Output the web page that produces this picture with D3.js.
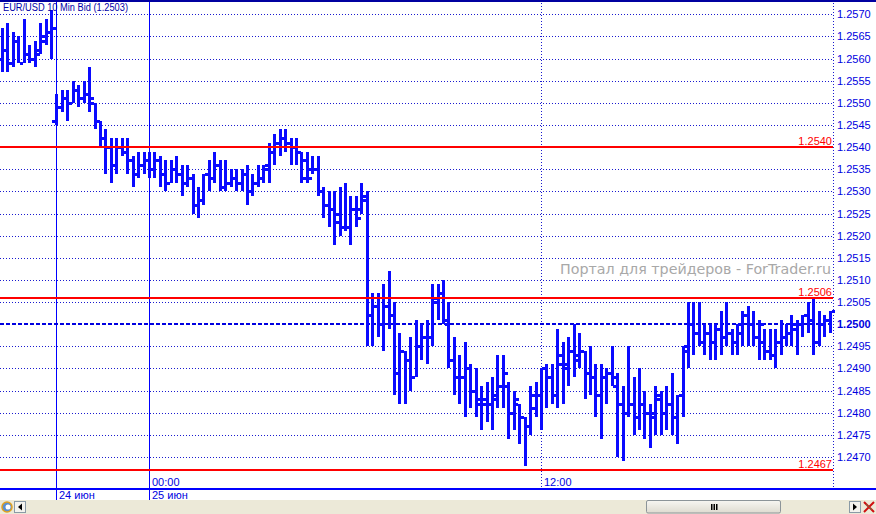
<!DOCTYPE html>
<html><head><meta charset="utf-8">
<script src="https://cdn.jsdelivr.net/npm/d3@7"></script>
<style>html,body{margin:0;padding:0;background:#fff;overflow:hidden}svg{display:block}</style>
</head><body>
<script>
const title = "EUR/USD 10 Min Bid (1.2503)";
const open = [1.2560,1.2562,1.2559,1.2564,1.2559,1.2561,1.2560,1.2562,1.2564,1.2566,
1.2546,1.2549,1.2551,1.2550,1.2553,1.2551,1.2552,1.2550,1.2546,1.2542,
1.2540,1.2536,1.2540,1.2539,1.2537,1.2534,1.2536,1.2537,1.2535,1.2537,
1.2534,1.2532,1.2535,1.2534,1.2532,1.2533,1.2527,1.2528,1.2534,1.2533,
1.2536,1.2531,1.2532,1.2533,1.2532,1.2534,1.2530,1.2532,1.2533,1.2535,
1.2539,1.2541,1.2542,1.2541,1.2540,1.2539,1.2537,1.2535,1.2535,1.2530,
1.2527,1.2526,1.2525,1.2522,1.2522,1.2526,1.2526,1.2528,1.2502,1.2504,
1.2500,1.2504,1.2502,1.2489,1.2494,1.2492,1.2488,1.2495,1.2497,1.2497,
1.2505,1.2507,1.2501,1.2492,1.2488,1.2488,1.2490,1.2485,1.2483,1.2482,
1.2482,1.2483,1.2486,1.2486,1.2480,1.2482,1.2479,1.2477,1.2481,1.2484,
1.2490,1.2488,1.2484,1.2491,1.2491,1.2494,1.2492,1.2494,1.2489,1.2488,
1.2484,1.2488,1.2489,1.2486,1.2482,1.2480,1.2482,1.2479,1.2482,1.2480,
1.2480,1.2483,1.2480,1.2482,1.2479,1.2484,1.2495,1.2500,1.2498,1.2496,
1.2498,1.2496,1.2499,1.2497,1.2498,1.2496,1.2500,1.2502,1.2500,1.2497,
1.2496,1.2494,1.2493,1.2496,1.2497,1.2498,1.2499,1.2500,1.2502,1.2501,
1.2496,1.2500,1.2501];
const high = [1.2567,1.2568,1.2566,1.2565,1.2569,1.2563,1.2564,1.2568,1.2569,1.2571,
1.2552,1.2553,1.2553,1.2555,1.2554,1.2555,1.2558,1.2550,1.2546,1.2544,
1.2542,1.2542,1.2542,1.2542,1.2538,1.2539,1.2539,1.2539,1.2539,1.2538,
1.2537,1.2537,1.2538,1.2536,1.2536,1.2534,1.2531,1.2534,1.2537,1.2539,
1.2537,1.2537,1.2535,1.2535,1.2535,1.2536,1.2534,1.2536,1.2536,1.2541,
1.2543,1.2544,1.2544,1.2542,1.2542,1.2539,1.2539,1.2538,1.2538,1.2531,
1.2530,1.2530,1.2531,1.2532,1.2529,1.2529,1.2532,1.2530,1.2507,1.2507,
1.2509,1.2512,1.2505,1.2498,1.2494,1.2497,1.2501,1.2500,1.2501,1.2509,
1.2509,1.2510,1.2505,1.2497,1.2493,1.2496,1.2491,1.2490,1.2486,1.2487,
1.2488,1.2493,1.2493,1.2487,1.2485,1.2482,1.2479,1.2486,1.2487,1.2490,
1.2491,1.2491,1.2499,1.2496,1.2497,1.2500,1.2498,1.2494,1.2495,1.2491,
1.2491,1.2490,1.2495,1.2489,1.2486,1.2495,1.2488,1.2490,1.2485,1.2482,
1.2486,1.2485,1.2486,1.2489,1.2484,1.2495,1.2505,1.2505,1.2505,1.2500,
1.2500,1.2500,1.2503,1.2505,1.2499,1.2500,1.2503,1.2504,1.2503,1.2501,
1.2499,1.2499,1.2499,1.2501,1.2500,1.2502,1.2501,1.2502,1.2505,1.2506,
1.2503,1.2502,1.2503];
const low = [1.2557,1.2557,1.2558,1.2559,1.2559,1.2559,1.2558,1.2561,1.2563,1.2560,
1.2545,1.2548,1.2546,1.2550,1.2549,1.2550,1.2548,1.2544,1.2540,1.2534,
1.2532,1.2534,1.2538,1.2534,1.2531,1.2533,1.2534,1.2533,1.2533,1.2531,
1.2530,1.2532,1.2532,1.2529,1.2531,1.2525,1.2524,1.2527,1.2530,1.2532,
1.2530,1.2530,1.2531,1.2530,1.2530,1.2527,1.2529,1.2531,1.2532,1.2532,
1.2536,1.2538,1.2539,1.2536,1.2536,1.2532,1.2532,1.2534,1.2529,1.2524,
1.2522,1.2518,1.2520,1.2521,1.2518,1.2522,1.2525,1.2495,1.2495,1.2497,
1.2494,1.2499,1.2484,1.2482,1.2482,1.2485,1.2488,1.2492,1.2491,1.2495,
1.2501,1.2500,1.2490,1.2484,1.2482,1.2479,1.2481,1.2479,1.2476,1.2478,
1.2476,1.2481,1.2481,1.2474,1.2476,1.2473,1.2468,1.2475,1.2479,1.2476,
1.2481,1.2482,1.2481,1.2482,1.2486,1.2488,1.2490,1.2483,1.2484,1.2479,
1.2474,1.2482,1.2486,1.2470,1.2469,1.2479,1.2475,1.2476,1.2474,1.2472,
1.2475,1.2475,1.2476,1.2475,1.2473,1.2479,1.2490,1.2493,1.2495,1.2493,
1.2492,1.2492,1.2493,1.2495,1.2493,1.2493,1.2495,1.2495,1.2495,1.2492,
1.2492,1.2492,1.2490,1.2493,1.2495,1.2495,1.2493,1.2497,1.2498,1.2493,
1.2495,1.2497,1.2498];
const close = [1.2562,1.2559,1.2564,1.2559,1.2561,1.2560,1.2561,1.2565,1.2566,1.2567,
1.2549,1.2551,1.2550,1.2553,1.2551,1.2552,1.2551,1.2546,1.2542,1.2540,
1.2536,1.2540,1.2539,1.2537,1.2534,1.2536,1.2537,1.2535,1.2537,1.2534,
1.2532,1.2535,1.2534,1.2532,1.2533,1.2527,1.2528,1.2534,1.2533,1.2536,
1.2531,1.2532,1.2533,1.2532,1.2534,1.2530,1.2532,1.2533,1.2536,1.2539,
1.2541,1.2542,1.2541,1.2540,1.2539,1.2533,1.2533,1.2535,1.2530,1.2527,
1.2526,1.2523,1.2522,1.2522,1.2526,1.2524,1.2529,1.2502,1.2504,1.2500,
1.2504,1.2502,1.2489,1.2494,1.2492,1.2488,1.2495,1.2497,1.2497,1.2506,
1.2507,1.2500,1.2492,1.2488,1.2488,1.2490,1.2485,1.2482,1.2483,1.2482,
1.2484,1.2486,1.2489,1.2480,1.2483,1.2479,1.2477,1.2484,1.2484,1.2490,
1.2488,1.2484,1.2493,1.2490,1.2494,1.2493,1.2494,1.2489,1.2488,1.2484,
1.2488,1.2489,1.2488,1.2482,1.2480,1.2482,1.2479,1.2482,1.2480,1.2479,
1.2484,1.2480,1.2482,1.2479,1.2484,1.2494,1.2500,1.2498,1.2496,1.2498,
1.2496,1.2499,1.2497,1.2498,1.2496,1.2498,1.2502,1.2500,1.2497,1.2500,
1.2494,1.2493,1.2496,1.2497,1.2498,1.2500,1.2500,1.2502,1.2501,1.2496,
1.2500,1.2501,1.2503];
const priceTicks = [1.2570,1.2565,1.2560,1.2555,1.2550,1.2545,1.2540,1.2535,1.2530,1.2525,1.2520,
1.2515,1.2510,1.2505,1.2500,1.2495,1.2490,1.2485,1.2480,1.2475,1.2470];
const levelLines = [1.2540, 1.2506, 1.2467];
const currentLevel = 1.2500;
const dayIndex = [10, 27];
const dayLabels = ["24 июн", "25 июн"];
const timeIndex = [27, 99];
const timeLabels = ["00:00", "12:00"];
const watermark = "Портал для трейдеров - ForTrader.ru";

const W = 876, H = 514;
const FONT = "'Liberation Sans', Arial, sans-serif";
const BAR = "#0a0aff", AX = "#0000e0", GRID = "#1a1ad0";
const svg = d3.select("body").append("svg").attr("width", W).attr("height", H)
  .style("font-family", FONT).attr("shape-rendering", "crispEdges");

const x = d3.scaleLinear().domain([0, open.length - 1]).range([2, 829.5]);
const y = d3.scaleLinear().domain([1.2470, 1.2570]).range([457, 14.3]);
const plotR = 833, axisY = 488;

// horizontal dotted grid
svg.append("g").selectAll("line").data(priceTicks).join("line")
  .attr("x1", 0).attr("x2", plotR).attr("y1", d => Math.round(y(d)) + 0.5).attr("y2", d => Math.round(y(d)) + 0.5)
  .attr("stroke", GRID).attr("stroke-dasharray", "1,2").attr("stroke-width", 1);

// right axis labels
svg.append("g").selectAll("text").data(priceTicks).join("text")
  .attr("x", 837).attr("y", d => Math.round(y(d)) + 4)
  .attr("font-size", 11).attr("fill", AX)
  .attr("font-weight", d => d === currentLevel ? "bold" : "normal")
  .text(d => d.toFixed(4));

// right axis dotted line
svg.append("line").attr("x1", plotR + 0.5).attr("x2", plotR + 0.5).attr("y1", 0).attr("y2", axisY)
  .attr("stroke", GRID).attr("stroke-dasharray", "1,2");

// time dotted vertical (12:00 etc.)
svg.append("g").selectAll("line").data(timeIndex.filter(i => !dayIndex.includes(i))).join("line")
  .attr("x1", d => Math.round(x(d)) + 0.5).attr("x2", d => Math.round(x(d)) + 0.5)
  .attr("y1", 0).attr("y2", axisY).attr("stroke", GRID).attr("stroke-dasharray", "1,2");

// day separators
svg.append("g").selectAll("line").data(dayIndex).join("line")
  .attr("x1", d => Math.round(x(d)) + 0.5).attr("x2", d => Math.round(x(d)) + 0.5)
  .attr("y1", 0).attr("y2", 500).attr("stroke", "#0000ff").attr("stroke-width", 1);

// watermark
svg.append("text").attr("x", 831).attr("y", 274).attr("text-anchor", "end")
  .attr("font-family", "'DejaVu Sans', Verdana, sans-serif").attr("font-size", 14)
  .attr("fill", "#a8a8a8").attr("textLength", 271).attr("lengthAdjust", "spacingAndGlyphs")
  .text(watermark);

// current price dashed line
svg.append("line").attr("x1", 0).attr("x2", plotR).attr("y1", Math.round(y(currentLevel)))
  .attr("y2", Math.round(y(currentLevel))).attr("stroke", "#0000e0").attr("stroke-width", 2)
  .attr("stroke-dasharray", "4,2");

// bars
const idx = d3.range(open.length);
const g = svg.append("g").attr("fill", BAR);
idx.forEach(i => {
  const cx = Math.round(x(i));
  const yh = Math.round(y(high[i])), yl = Math.round(y(low[i]));
  g.append("rect").attr("x", cx - 1).attr("y", yh).attr("width", 3).attr("height", Math.max(yl - yh, 2));
  g.append("rect").attr("x", cx - 4).attr("y", Math.round(y(open[i])) - 1).attr("width", 3).attr("height", 3);
  g.append("rect").attr("x", cx + 2).attr("y", Math.round(y(close[i])) - 1).attr("width", 3).attr("height", 3);
});

// red level lines
svg.append("g").selectAll("line").data(levelLines).join("line")
  .attr("x1", 0).attr("x2", plotR).attr("y1", d => Math.round(y(d)))
  .attr("y2", d => Math.round(y(d))).attr("stroke", "#ff0000").attr("stroke-width", 2);
svg.append("g").selectAll("text").data(levelLines).join("text")
  .attr("x", 832).attr("y", d => Math.round(y(d)) - 2).attr("text-anchor", "end")
  .attr("font-size", 11).attr("fill", "#ff0000").text(d => d.toFixed(4));

// title
svg.append("text").attr("x", 3).attr("y", 11).attr("font-size", 10).attr("fill", "#0000a8")
  .attr("textLength", 125).attr("lengthAdjust", "spacingAndGlyphs").text(title);

// top border
svg.append("rect").attr("x", 0).attr("y", 0).attr("width", W).attr("height", 2).attr("fill", "#0000a0");

// bottom axis
svg.append("rect").attr("x", 0).attr("y", axisY).attr("width", W).attr("height", 1.5).attr("fill", "#0000ff");
svg.append("g").selectAll("text").data(timeIndex).join("text")
  .attr("x", d => Math.round(x(d)) + 3).attr("y", 486).attr("font-size", 11).attr("fill", AX)
  .text((d, i) => timeLabels[i]);
svg.append("g").selectAll("text").data(dayIndex).join("text")
  .attr("x", d => Math.round(x(d)) + 3).attr("y", 499).attr("font-size", 11).attr("fill", AX)
  .text((d, i) => dayLabels[i]);

// scrollbar
const sb = svg.append("g").attr("shape-rendering", "auto");
sb.append("rect").attr("x", 0).attr("y", 500).attr("width", W).attr("height", 14).attr("fill", "#ece9d8");
sb.append("circle").attr("cx", 7).attr("cy", 507).attr("r", 5).attr("fill", "#5a8fd0").attr("stroke", "#e0a020").attr("stroke-width", 1.5);
sb.append("circle").attr("cx", 8).attr("cy", 507).attr("r", 2.5).attr("fill", "#ffffff");
sb.append("rect").attr("x", 14.5).attr("y", 501.5).attr("width", 11).attr("height", 11).attr("fill", "#f4f3ee").attr("stroke", "#8a9aa6");
sb.append("path").attr("d", "M18,507 L22,503.5 L22,510.5 Z").attr("fill", "#000");
const grad = svg.append("defs").append("linearGradient").attr("id", "thumb").attr("x1", 0).attr("x2", 0).attr("y1", 0).attr("y2", 1);
grad.append("stop").attr("offset", "0%").attr("stop-color", "#f7f6f2");
grad.append("stop").attr("offset", "100%").attr("stop-color", "#dedbd0");
sb.append("rect").attr("x", 646.5).attr("y", 500.5).attr("width", 134).attr("height", 12.5).attr("rx", 1.5)
  .attr("fill", "url(#thumb)").attr("stroke", "#8c9499");
[711, 713.5, 716].forEach(gx => sb.append("rect").attr("x", gx).attr("y", 504).attr("width", 1.5).attr("height", 6).attr("fill", "#000"));
sb.append("rect").attr("x", 849.5).attr("y", 501.5).attr("width", 11).attr("height", 11).attr("fill", "#f4f3ee").attr("stroke", "#8a9aa6");
sb.append("path").attr("d", "M857,507 L853,503.5 L853,510.5 Z").attr("fill", "#000");
sb.append("path").attr("d", "M864,502 L874,512 M874,502 L864,512").attr("stroke", "#d01010").attr("stroke-width", 2);
sb.append("path").attr("d", "M866,504 L872,510").attr("stroke", "#4a8a4a").attr("stroke-width", 0.8);
</script>
</body></html>
